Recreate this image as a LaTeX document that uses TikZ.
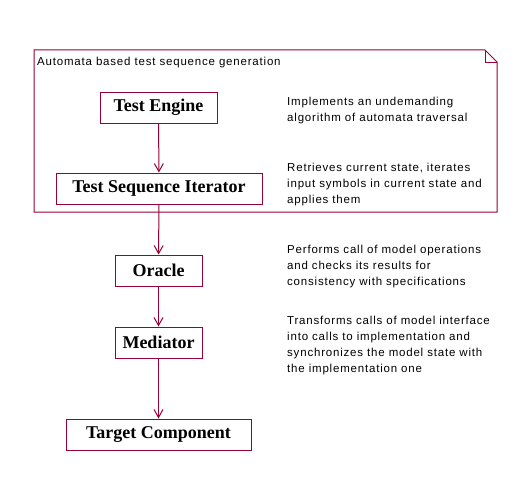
\documentclass[tikz,border=0pt]{standalone}
\usepackage{fontspec}
\setmainfont{Liberation Serif}
\newfontfamily\descfont[LetterSpace=7]{Liberation Sans}
\usetikzlibrary{arrows.meta}
\definecolor{umlred}{RGB}{153,0,51}
\tikzset{
  comp/.style={draw=umlred, line width=1pt, minimum height=31pt, inner sep=0pt,
    font=\fontsize{18}{20}\selectfont\bfseries},
  desc/.style={anchor=base west, inner sep=0pt, align=left,
    font=\descfont\fontsize{11.5}{16}\selectfont},
  flow/.style={draw=umlred, line width=1pt, -{Straight Barb[length=8pt,width=9pt,line width=1pt]}},
}
\begin{document}
\begin{tikzpicture}[x=1pt,y=-1pt]
\useasboundingbox (0,0) rectangle (524,487);
\fill[white] (0,0) rectangle (524,487);
% package
\draw[umlred, line width=1pt] (34,50) -- (485,50) -- (497,62) -- (497,212) -- (34,212) -- cycle;
\draw[umlred, line width=1pt] (485,50) -- (485,62) -- (497,62);
\node[desc] (pkg) at (37,65) {Automata based test sequence generation};
% components
\node[comp, minimum width=117pt] (te) at (158.5,107.5) {Test Engine};
\node[comp, minimum width=206pt] (tsi) at (159,188.5) {Test Sequence Iterator};
\node[comp, minimum width=87pt] (or) at (158.5,270.5) {Oracle};
\node[comp, minimum width=87pt] (me) at (158.5,342.5) {Mediator};
\node[comp, minimum width=185pt] (tc) at (158.5,434.5) {Target Component};
% arrows
\draw[flow] (te) -- (tsi);
\draw[flow] (tsi) -- (or);
\draw[flow] (or) -- (me);
\draw[flow] (me) -- (tc);
% descriptions (anchored at the baseline of the last line)
\node[desc] (d1) at (287,121) {Implements an undemanding\\algorithm of automata traversal};
\node[desc] (d2) at (287,203) {Retrieves current state, iterates\\input symbols in current state and\\applies them};
\node[desc] (d3) at (287,285) {Performs call of model operations\\and checks its results for\\consistency with specifications};
\node[desc] (d4) at (287,372) {Transforms calls of model interface\\into calls to implementation and\\synchronizes the model state with\\the implementation one};
\end{tikzpicture}
\end{document}
